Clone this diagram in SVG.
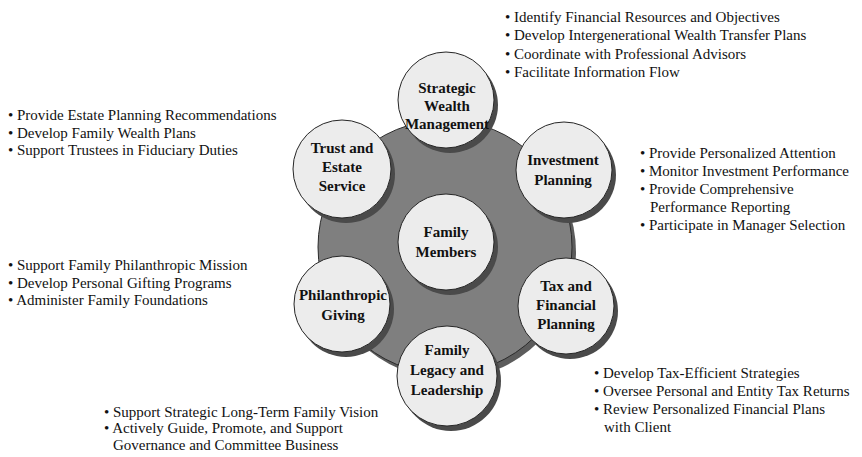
<svg xmlns="http://www.w3.org/2000/svg" width="862" height="457" viewBox="0 0 862 457">
<defs>
<style>
.disk{fill:#7f7f7f;stroke:#2b2b2b;stroke-width:1}
.diskshadow{fill:#5c5c5c}
.shadow{fill:#4a4a4a}
.node{fill:#ececec;stroke:#262626;stroke-width:1}
.lbl{font-family:"Liberation Serif","Times New Roman",serif;font-weight:bold;font-size:15px;fill:#111;text-anchor:middle}
.bul{font-family:"Liberation Serif","Times New Roman",serif;font-size:15px;fill:#111}
</style>
</defs>
<rect width="862" height="457" fill="#ffffff"/>
<g id="hub">
<circle class="diskshadow" cx="449" cy="252" r="127"/>
<circle class="disk" cx="445" cy="247" r="127"/>
</g>
<g id="connectors"></g>
<g id="family-members">
<circle class="shadow" cx="450" cy="247" r="48"/>
<circle class="node" cx="446" cy="242" r="48"/>
<text class="lbl"><tspan x="446" y="237">Family</tspan><tspan x="446" y="257">Members</tspan></text>
</g>
<g id="strategic-wealth-management">
<circle class="shadow" cx="450" cy="105" r="48"/>
<circle class="node" cx="446" cy="100" r="48"/>
<text class="lbl"><tspan x="447" y="93">Strategic</tspan><tspan x="447" y="111">Wealth</tspan><tspan x="447" y="129">Management</tspan></text>
<text class="bul"><tspan x="505" y="22">• Identify Financial Resources and Objectives</tspan><tspan x="505" y="40">• Develop Intergenerational Wealth Transfer Plans</tspan><tspan x="505" y="59">• Coordinate with Professional Advisors</tspan><tspan x="505" y="77">• Facilitate Information Flow</tspan></text>
</g>
<g id="trust-and-estate-service">
<circle class="shadow" cx="346" cy="174" r="49"/>
<circle class="node" cx="342" cy="169" r="49"/>
<text class="lbl"><tspan x="342" y="153">Trust and</tspan><tspan x="342" y="172">Estate</tspan><tspan x="342" y="191">Service</tspan></text>
<text class="bul"><tspan x="8" y="120">• Provide Estate Planning Recommendations</tspan><tspan x="8" y="138">• Develop Family Wealth Plans</tspan><tspan x="8" y="155">• Support Trustees in Fiduciary Duties</tspan></text>
</g>
<g id="investment-planning">
<circle class="shadow" cx="568" cy="175" r="48"/>
<circle class="node" cx="564" cy="170" r="48"/>
<text class="lbl"><tspan x="563" y="165">Investment</tspan><tspan x="563" y="185">Planning</tspan></text>
<text class="bul"><tspan x="640" y="158">• Provide Personalized Attention</tspan><tspan x="640" y="176">• Monitor Investment Performance</tspan><tspan x="640" y="194">• Provide Comprehensive</tspan><tspan x="650" y="212">Performance Reporting</tspan><tspan x="640" y="230">• Participate in Manager Selection</tspan></text>
</g>
<g id="tax-and-financial-planning">
<circle class="shadow" cx="570" cy="311" r="48"/>
<circle class="node" cx="566" cy="306" r="48"/>
<text class="lbl"><tspan x="566" y="291">Tax and</tspan><tspan x="566" y="310">Financial</tspan><tspan x="566" y="329">Planning</tspan></text>
<text class="bul"><tspan x="594" y="378">• Develop Tax-Efficient Strategies</tspan><tspan x="594" y="396">• Oversee Personal and Entity Tax Returns</tspan><tspan x="594" y="414">• Review Personalized Financial Plans</tspan><tspan x="604" y="432">with Client</tspan></text>
</g>
<g id="philanthropic-giving">
<circle class="shadow" cx="346" cy="309" r="48"/>
<circle class="node" cx="342" cy="304" r="48"/>
<text class="lbl"><tspan x="343" y="300">Philanthropic</tspan><tspan x="343" y="320">Giving</tspan></text>
<text class="bul"><tspan x="8" y="270">• Support Family Philanthropic Mission</tspan><tspan x="8" y="288">• Develop Personal Gifting Programs</tspan><tspan x="8" y="305">• Administer Family Foundations</tspan></text>
</g>
<g id="family-legacy-and-leadership">
<circle class="shadow" cx="451" cy="381" r="50"/>
<circle class="node" cx="447" cy="376" r="50"/>
<text class="lbl"><tspan x="447" y="355">Family</tspan><tspan x="447" y="375">Legacy and</tspan><tspan x="447" y="395">Leadership</tspan></text>
<text class="bul"><tspan x="104" y="417">• Support Strategic Long-Term Family Vision</tspan><tspan x="104" y="433">• Actively Guide, Promote, and Support</tspan><tspan x="113" y="450">Governance and Committee Business</tspan></text>
</g>
</svg>
